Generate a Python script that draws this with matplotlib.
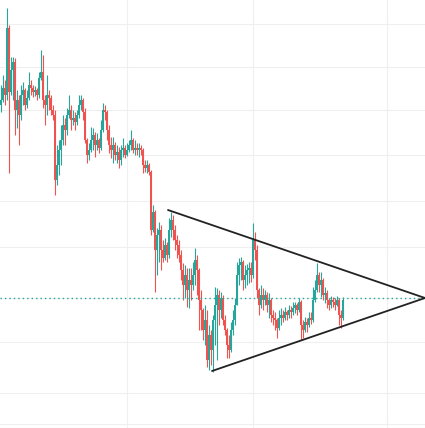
import numpy as np
import matplotlib
matplotlib.use('Agg')
import matplotlib.pyplot as plt

# candle data (arbitrary price units), open of each candle = previous close
first_open = 325
close = [330, 342, 335, 402, 338, 360, 368, 320, 330, 315,
         335, 340, 325, 332, 345, 342, 338, 340, 335, 352,
         358, 330, 325, 335, 332, 320, 315, 250, 265, 280,
         290, 305, 300, 315, 320, 310, 312, 308, 315, 325,
         330, 318, 290, 275, 280, 290, 295, 285, 290, 282,
         300, 320, 318, 300, 285, 280, 285, 275, 278, 270,
         280, 282, 275, 280, 285, 290, 280, 282, 280, 282,
         280, 265, 262, 265, 258, 200, 218, 180, 195, 200,
         180, 172, 185, 175, 200, 210, 200, 190, 185, 175,
         160, 145, 155, 140, 150, 145, 155, 170, 160, 130,
         120, 100, 110, 70, 95, 80, 110, 125, 135, 120,
         132, 110, 100, 85, 80, 100, 110, 125, 155, 165,
         168, 150, 155, 160, 162, 155, 190, 180, 140, 125,
         135, 130, 135, 125, 130, 115, 112, 110, 102, 112,
         115, 112, 118, 115, 120, 118, 122, 125, 120, 128,
         105, 100, 108, 105, 112, 110, 130, 140, 155, 145,
         150, 135, 137, 130, 125, 130, 128, 125, 130, 115,
         112, 130]
high = [345, 355, 350, 422, 405, 373, 373, 372, 340, 335,
        345, 348, 342, 340, 358, 350, 345, 344, 342, 358,
        380, 375, 335, 355, 340, 335, 325, 320, 285, 290,
        305, 315, 312, 322, 335, 325, 320, 318, 320, 335,
        335, 332, 322, 292, 287, 303, 302, 298, 297, 292,
        310, 327, 325, 320, 305, 293, 293, 288, 285, 283,
        285, 292, 285, 287, 290, 300, 292, 290, 287, 287,
        285, 282, 270, 270, 267, 260, 225, 220, 202, 208,
        205, 190, 192, 188, 212, 218, 215, 205, 195, 190,
        180, 167, 165, 162, 162, 162, 168, 182, 175, 162,
        140, 122, 125, 120, 105, 100, 115, 143, 142, 140,
        138, 135, 115, 102, 95, 108, 120, 132, 168, 172,
        173, 170, 165, 166, 168, 168, 207, 198, 185, 142,
        145, 142, 140, 138, 137, 132, 120, 118, 112, 120,
        122, 120, 123, 120, 125, 124, 128, 128, 127, 132,
        130, 110, 113, 112, 118, 118, 143, 150, 167, 158,
        158, 152, 143, 140, 132, 134, 133, 132, 134, 132,
        120, 133]
low = [318, 328, 325, 330, 257, 335, 330, 295, 302, 285,
       310, 325, 320, 322, 330, 335, 333, 334, 330, 332,
       350, 322, 305, 315, 320, 315, 310, 235, 245, 255,
       265, 285, 285, 295, 312, 300, 305, 300, 305, 312,
       320, 310, 287, 267, 270, 278, 280, 273, 280, 277,
       280, 298, 310, 290, 277, 272, 267, 270, 267, 262,
       265, 273, 272, 274, 278, 280, 277, 275, 275, 273,
       275, 257, 258, 257, 255, 195, 198, 138, 155, 168,
       160, 168, 170, 168, 172, 193, 190, 180, 172, 168,
       150, 130, 132, 123, 122, 130, 140, 145, 135, 100,
       100, 90, 85, 63, 60, 65, 58, 85, 70, 105,
       112, 105, 95, 72, 72, 78, 95, 105, 125, 145,
       150, 140, 142, 145, 147, 148, 152, 170, 132, 115,
       122, 120, 125, 118, 112, 108, 105, 100, 92, 100,
       105, 108, 110, 110, 112, 112, 115, 117, 115, 118,
       90, 92, 98, 98, 103, 106, 108, 128, 138, 138,
       133, 130, 127, 122, 120, 122, 123, 120, 124, 105,
       102, 110]

# triangle drawn on the chart (candle index, price)
upper_line_x = [83.5, 212]
upper_line_y = [220, 132]
lower_line_x = [105.5, 212]
lower_line_y = [59, 132]
level = 132

grid_x = [63, 126, 193]
grid_y = [406, 363, 320, 275, 229, 183, 132, 88, 37, 6]

up_color = '#26a69a'
down_color = '#ef5350'

close = np.array(close)
high = np.array(high)
low = np.array(low)
opn = np.r_[first_open, close[:-1]]
idx = np.arange(len(close))
colors = [up_color if c >= o else down_color for o, c in zip(opn, close)]

fig = plt.figure(figsize=(4.25, 4.28), dpi=100)
ax = fig.add_axes([0, 0, 1, 1])

ax.vlines(idx, low, high, colors=colors, linewidth=0.8)
body = np.maximum(np.abs(close - opn), 1)
ax.bar(idx, body, bottom=np.minimum(opn, close), width=0.7, color=colors, linewidth=0)

ax.axhline(level, color=up_color, linestyle=(0, (1, 2.2)), linewidth=1)
ax.plot(upper_line_x, upper_line_y, color='#222222', linewidth=1.3, solid_capstyle='round')
ax.plot(lower_line_x, lower_line_y, color='#222222', linewidth=1.3, solid_capstyle='round')

ax.set_xlim(-0.5, 212)
ax.set_ylim(2, 430)
ax.set_xticks(grid_x)
ax.set_yticks(grid_y)
ax.grid(True, color='#efefef', linewidth=0.8)
ax.set_axisbelow(True)
ax.tick_params(length=0, labelbottom=False, labelleft=False)
for s in ax.spines.values():
    s.set_visible(False)

fig.savefig('out.png', dpi=100)
